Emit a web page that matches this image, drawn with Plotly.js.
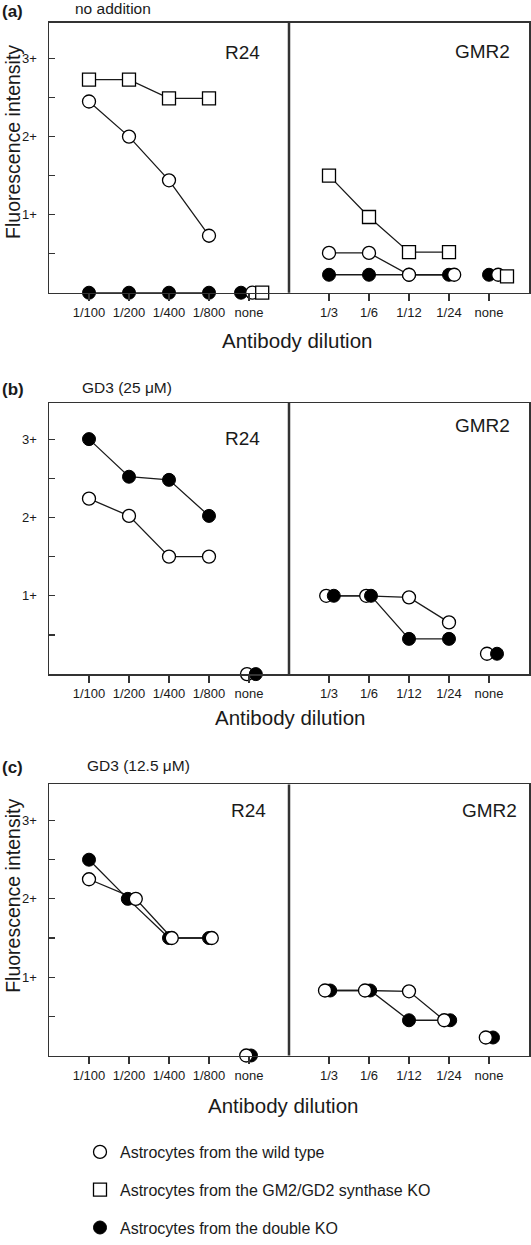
<!DOCTYPE html>
<html>
<head>
<meta charset="utf-8">
<script src="https://cdn.plot.ly/plotly-3.0.1.min.js"></script>
<style>html,body{margin:0;padding:0;background:#fff;}#chart{width:531px;height:1245px;}</style>
</head>
<body>
<div id="chart"></div>
<script>
// ---------- DATA ----------
const dilR24 = ['1/100', '1/200', '1/400', '1/800', 'none'];
const dilGMR2 = ['1/3', '1/6', '1/12', '1/24', 'none'];
const yTickVals = [0.5, 1, 1.5, 2, 2.5, 3];
const yTickText = ['', '1+', '', '2+', '', '3+'];
const seriesNames = ['Astrocytes from the wild type', 'Astrocytes from the GM2/GD2 synthase KO', 'Astrocytes from the double KO'];

// (a) no addition
const a_R24_wt = [2.45, 2.0, 1.44, 0.73, 0];
const a_R24_sko = [2.73, 2.73, 2.49, 2.49, 0];
const a_R24_dko = [0, 0, 0, 0, 0];
const a_GMR2_wt = [0.51, 0.51, 0.23, 0.23, 0.23];
const a_GMR2_sko = [1.5, 0.97, 0.52, 0.52, 0.21];
const a_GMR2_dko = [0.23, 0.23, 0.23, 0.23, 0.23];
// (b) GD3 25 uM
const b_R24_wt = [2.24, 2.02, 1.5, 1.5, 0];
const b_R24_dko = [3.0, 2.52, 2.48, 2.02, 0];
const b_GMR2_wt = [1.0, 1.0, 0.98, 0.66, 0.26];
const b_GMR2_dko = [1.0, 1.0, 0.45, 0.45, 0.26];
// (c) GD3 12.5 uM
const c_R24_wt = [2.25, 2.0, 1.5, 1.5, 0];
const c_R24_dko = [2.5, 2.0, 1.5, 1.5, 0];
const c_GMR2_wt = [0.83, 0.83, 0.82, 0.45, 0.23];
const c_GMR2_dko = [0.83, 0.83, 0.45, 0.45, 0.23];

// ---------- STYLE / PRESENTATION ----------
const W = 531, H = 1245;
const FONT = 'Liberation Sans, Arial, Helvetica, sans-serif';
const INK = '#1a1a1a';
const MS = 13;
const styles = {
  wt:  {symbol: 'circle', color: '#ffffff', lw: 1.3},
  sko: {symbol: 'square', color: '#ffffff', lw: 1.3},
  dko: {symbol: 'circle', color: '#000000', lw: 1}
};
const legendIdx = {wt: 0, sko: 1, dko: 2};
// small horizontal nudges so overlapping markers are visible (as in the original)
const nudge = {
  a_R24_dko: [0, 0, 0, 0, -0.2], a_R24_wt: [0, 0, 0, 0, 0.08], a_R24_sko: [0, 0, 0, 0, 0.33],
  a_GMR2_dko: [0, 0, 0, 0, 0], a_GMR2_wt: [0, 0, 0, 0.13, 0.23], a_GMR2_sko: [0, 0, 0, 0, 0.45],
  b_R24_wt: [0, 0, 0, 0, -0.05], b_R24_dko: [0, 0, 0, 0, 0.17],
  b_GMR2_wt: [-0.07, -0.07, 0, 0, -0.05], b_GMR2_dko: [0.12, 0.05, 0, 0, 0.2],
  c_R24_dko: [0, -0.03, 0, 0, 0.05], c_R24_wt: [0, 0.17, 0.07, 0.07, -0.07],
  c_GMR2_dko: [0.03, 0.03, 0, 0.03, 0.1], c_GMR2_wt: [-0.1, -0.1, 0, -0.12, -0.08]
};

const panels = [
  {key: 'a', ax: '', dom: [23, 297], series: [
    ['dko', a_R24_dko, a_GMR2_dko], ['wt', a_R24_wt, a_GMR2_wt], ['sko', a_R24_sko, a_GMR2_sko]]},
  {key: 'b', ax: '2', dom: [409, 684], series: [
    ['wt', b_R24_wt, b_GMR2_wt], ['dko', b_R24_dko, b_GMR2_dko]]},
  {key: 'c', ax: '3', dom: [796, 1071], series: [
    ['dko', c_R24_dko, c_GMR2_dko], ['wt', c_R24_wt, c_GMR2_wt]]}
];

const traces = [];
const posR24 = dilR24.map((d, i) => i + 1);
const posGMR2 = dilGMR2.map((d, i) => i + 7);

panels.forEach(p => {
  const xa = 'x' + p.ax, ya = 'y' + p.ax;
  // lines first (dilution points only, not 'none')
  p.series.forEach(([s, r24, gmr2]) => {
    const nr = nudge[p.key + '_R24_' + s], ng = nudge[p.key + '_GMR2_' + s];
    const xs = [], ys = [];
    for (let i = 0; i < 4; i++) { xs.push(posR24[i] + nr[i]); ys.push(r24[i]); }
    xs.push(null); ys.push(null);
    for (let i = 0; i < 4; i++) { xs.push(posGMR2[i] + ng[i]); ys.push(gmr2[i]); }
    traces.push({x: xs, y: ys, xaxis: xa, yaxis: ya, mode: 'lines', showlegend: false,
      connectgaps: false, line: {color: INK, width: 1.3}, hoverinfo: 'skip', cliponaxis: false});
  });
  // markers on top
  p.series.forEach(([s, r24, gmr2]) => {
    const nr = nudge[p.key + '_R24_' + s], ng = nudge[p.key + '_GMR2_' + s];
    const xs = posR24.map((v, i) => v + nr[i]).concat(posGMR2.map((v, i) => v + ng[i]));
    const ys = r24.concat(gmr2);
    const st = styles[s];
    traces.push({x: xs, y: ys, xaxis: xa, yaxis: ya, mode: 'markers',
      name: seriesNames[legendIdx[s]], legendrank: legendIdx[s] + 1,
      legendgroup: s, showlegend: p.key === 'a', cliponaxis: false,
      marker: {symbol: st.symbol, size: MS, color: st.color, line: {color: '#000', width: st.lw}}});
  });
});

const layout = {
  width: W, height: H,
  margin: {l: 0, r: 0, t: 0, b: 0},
  paper_bgcolor: '#fff', plot_bgcolor: '#fff',
  font: {family: FONT, color: INK, size: 13},
  showlegend: true,
  legend: {x: 80 / W, y: 1 - 1152 / H, xanchor: 'left', yanchor: 'top',
    font: {size: 16, family: FONT, color: INK}, tracegroupgap: 14, itemsizing: 'trace',
    bgcolor: 'rgba(0,0,0,0)'},
  shapes: [], annotations: []
};

panels.forEach(p => {
  const ydom = [1 - p.dom[1] / H, 1 - p.dom[0] / H];
  layout['xaxis' + p.ax] = {
    domain: [49 / W, 529 / W], anchor: 'y' + p.ax, range: [0, 12], fixedrange: true,
    tickmode: 'array', tickvals: posR24.concat(posGMR2), ticktext: dilR24.concat(dilGMR2),
    ticks: 'outside', ticklen: 7, tickwidth: 1.2, tickcolor: '#333',
    showline: true, mirror: true, linecolor: '#333', linewidth: 1.5,
    showgrid: false, zeroline: false, tickfont: {size: 13, family: FONT, color: INK}
  };
  layout['yaxis' + p.ax] = {
    domain: ydom, anchor: 'x' + p.ax, range: [0, 3.46], fixedrange: true,
    tickmode: 'array', tickvals: yTickVals, ticktext: yTickText,
    ticks: 'inside', ticklen: 6, tickwidth: 1.2, tickcolor: '#333', ticklabelstandoff: 8,
    showline: true, mirror: true, linecolor: '#333', linewidth: 1.5,
    showgrid: false, zeroline: false, tickfont: {size: 13, family: FONT, color: INK}
  };
  layout.shapes.push({type: 'line', xref: 'x' + p.ax, yref: 'y' + p.ax + ' domain',
    x0: 6, x1: 6, y0: 0, y1: 1, line: {color: '#333', width: 2.5}});
});

function ann(text, px, py, opts) {
  layout.annotations.push(Object.assign({text: text, xref: 'paper', yref: 'paper',
    x: px / W, y: 1 - py / H, showarrow: false, xanchor: 'left', yanchor: 'middle',
    font: {family: FONT, size: 13, color: INK}}, opts || {}));
}
const f = (s) => ({family: FONT, size: s, color: INK});
// panel letters and conditions
ann('<b>(a)</b>', 0, 12, {font: f(17)});
ann('no addition', 73, 9, {font: f(15.5)});
ann('<b>(b)</b>', 0, 395, {font: f(17)});
ann('GD3 (25 μM)', 80, 393, {font: f(15.5)});
ann('<b>(c)</b>', 0, 779, {font: f(17)});
ann('GD3 (12.5 μM)', 85, 777, {font: f(15.5)});
// antibody labels
ann('R24', 262, 53, {xanchor: 'right', font: f(19)});
ann('GMR2', 512, 52, {xanchor: 'right', font: f(19)});
ann('R24', 262, 445, {xanchor: 'right', font: f(19)});
ann('GMR2', 512, 432, {xanchor: 'right', font: f(19)});
ann('R24', 268, 822, {xanchor: 'right', font: f(19)});
ann('GMR2', 519, 822, {xanchor: 'right', font: f(19)});
// x titles
ann('Antibody dilution', 297, 345, {xanchor: 'center', font: f(20.5)});
ann('Antibody dilution', 290, 728, {xanchor: 'center', font: f(20.5)});
ann('Antibody dilution', 283, 1122, {xanchor: 'center', font: f(20.5)});
// y titles
ann('Fluorescence intensity', 13, 144, {xanchor: 'center', textangle: -90, font: f(19.5)});
ann('Fluorescence intensity', 13, 909, {xanchor: 'center', textangle: -90, font: f(19.5)});

Plotly.newPlot('chart', traces, layout, {staticPlot: true, displayModeBar: false});
</script>
</body>
</html>
